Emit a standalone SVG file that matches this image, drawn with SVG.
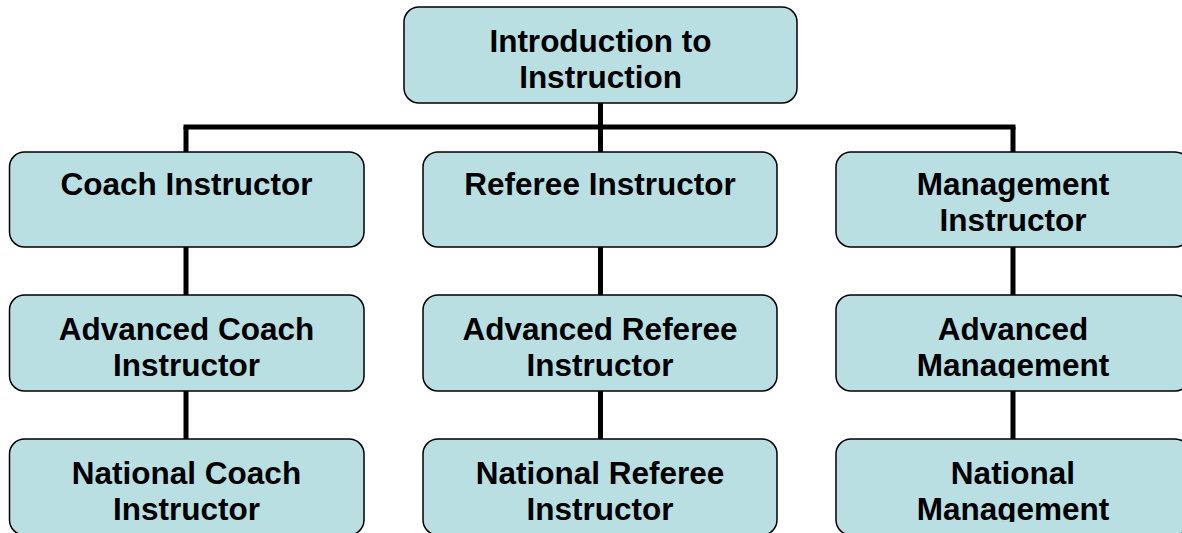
<svg xmlns="http://www.w3.org/2000/svg" width="1182" height="533" viewBox="0 0 1182 533">
<style>
.box{fill:#B9DFE3;stroke:#000;stroke-width:1.5}
.t{font-family:"Liberation Sans",Arial,sans-serif;font-weight:bold;font-size:31.5px;fill:#000;text-anchor:middle}
.c{stroke:#000;stroke-width:5;fill:none}
</style>
<defs>
<clipPath id="k1" clipPathUnits="userSpaceOnUse"><rect x="836" y="295" width="354" height="83"/></clipPath>
<clipPath id="k2" clipPathUnits="userSpaceOnUse"><rect x="836" y="439" width="354" height="83"/></clipPath>
</defs>
<rect width="1182" height="533" fill="#fff"/>
<g id="connectors">
<line class="c" x1="600.5" y1="103" x2="600.5" y2="152"/>
<line class="c" x1="183.5" y1="127" x2="1015.5" y2="127"/>
<line class="c" x1="186" y1="127" x2="186" y2="152"/>
<line class="c" x1="1013" y1="127" x2="1013" y2="152"/>
<line class="c" x1="186" y1="247" x2="186" y2="295"/>
<line class="c" x1="186" y1="391" x2="186" y2="439"/>
<line class="c" x1="600.5" y1="247" x2="600.5" y2="295"/>
<line class="c" x1="600.5" y1="391" x2="600.5" y2="439"/>
<line class="c" x1="1013" y1="247" x2="1013" y2="295"/>
<line class="c" x1="1013" y1="391" x2="1013" y2="439"/>
</g>
<g id="intro">
<rect class="box" x="404" y="7" width="393" height="96" rx="15"/>
<text class="t" x="600.5" y="52">Introduction to</text>
<text class="t" x="600.5" y="88">Instruction</text>
</g>
<g id="coach">
<rect class="box" x="9.5" y="152" width="354.5" height="95" rx="15"/>
<text class="t" x="186.5" y="195">Coach Instructor</text>
</g>
<g id="referee">
<rect class="box" x="423" y="152" width="354" height="95" rx="15"/>
<text class="t" x="600" y="195">Referee Instructor</text>
</g>
<g id="management">
<rect class="box" x="836" y="152" width="354" height="95" rx="15"/>
<text class="t" x="1013" y="195">Management</text>
<text class="t" x="1013" y="231">Instructor</text>
</g>
<g id="adv-coach">
<rect class="box" x="9.5" y="295" width="354.5" height="96" rx="15"/>
<text class="t" x="186.5" y="340">Advanced Coach</text>
<text class="t" x="186.5" y="376">Instructor</text>
</g>
<g id="adv-referee">
<rect class="box" x="423" y="295" width="354" height="96" rx="15"/>
<text class="t" x="600" y="340">Advanced Referee</text>
<text class="t" x="600" y="376">Instructor</text>
</g>
<g id="adv-management">
<rect class="box" x="836" y="295" width="354" height="96" rx="15"/>
<g clip-path="url(#k1)">
<text class="t" x="1013" y="340">Advanced</text>
<text class="t" x="1013" y="376">Management</text>
</g>
</g>
<g id="nat-coach">
<rect class="box" x="9.5" y="439" width="354.5" height="96" rx="15"/>
<text class="t" x="186.5" y="484">National Coach</text>
<text class="t" x="186.5" y="520">Instructor</text>
</g>
<g id="nat-referee">
<rect class="box" x="423" y="439" width="354" height="96" rx="15"/>
<text class="t" x="600" y="484">National Referee</text>
<text class="t" x="600" y="520">Instructor</text>
</g>
<g id="nat-management">
<rect class="box" x="836" y="439" width="354" height="96" rx="15"/>
<g clip-path="url(#k2)">
<text class="t" x="1013" y="484">National</text>
<text class="t" x="1013" y="520">Management</text>
</g>
</g>
</svg>
